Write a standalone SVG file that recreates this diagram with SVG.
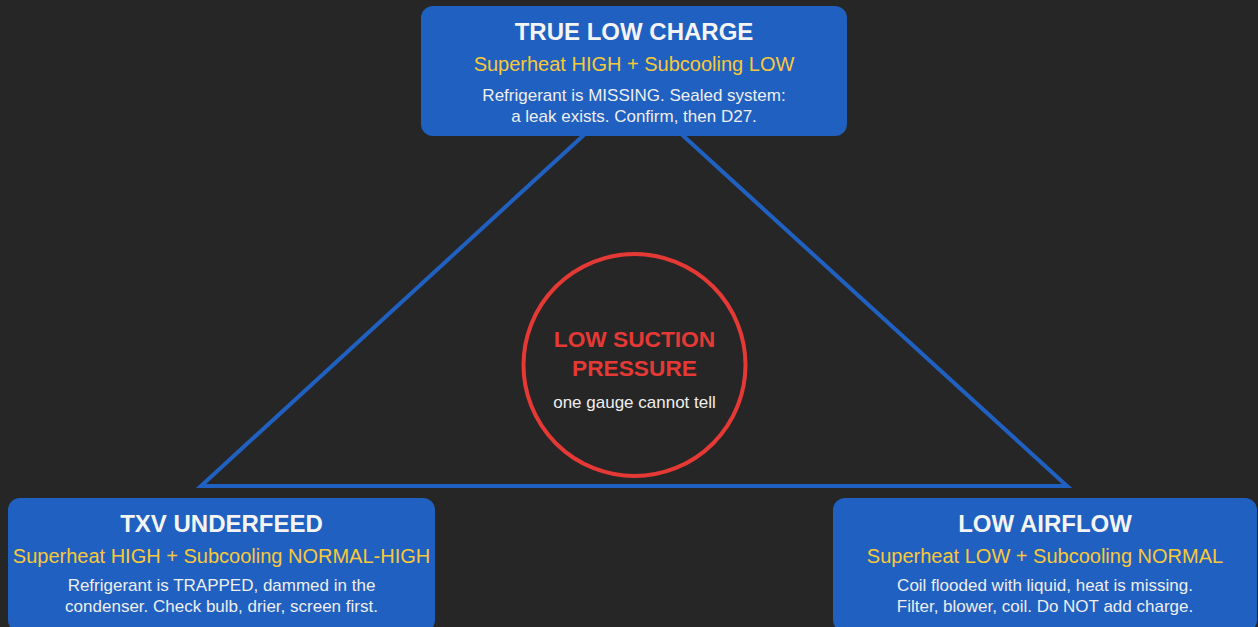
<svg xmlns="http://www.w3.org/2000/svg" width="1258" height="627" viewBox="0 0 1258 627">
<style>
.box{fill:#2060c0}
.t{font-family:"Liberation Sans",Arial,sans-serif;font-weight:bold;font-size:24px;fill:#f4f4f4;text-anchor:middle}
.s{font-family:"Liberation Sans",Arial,sans-serif;font-size:20px;fill:#f7c93a;text-anchor:middle}
.b{font-family:"Liberation Sans",Arial,sans-serif;font-size:17px;fill:#eeeeee;text-anchor:middle}
.c{font-family:"Liberation Sans",Arial,sans-serif;font-weight:bold;font-size:22.7px;fill:#e53935;text-anchor:middle}
</style>
<rect width="1258" height="627" fill="#262626"/>
<g id="connectors">
<polygon points="633,90 201,486 1067,486" fill="none" stroke="#2060c0" stroke-width="4" stroke-linejoin="miter"/>
</g>
<g id="center">
<circle cx="634.5" cy="365" r="111" fill="#262626" stroke="#e53935" stroke-width="4"/>
<text class="c" x="634.5" y="347">LOW SUCTION</text>
<text class="c" x="634.5" y="376">PRESSURE</text>
<text class="b" x="634.5" y="408">one gauge cannot tell</text>
</g>
<g id="true-low-charge">
<rect class="box" x="421" y="6" width="426" height="130" rx="12"/>
<text class="t" x="634" y="40">TRUE LOW CHARGE</text>
<text class="s" x="634" y="71">Superheat HIGH + Subcooling LOW</text>
<text class="b" x="634" y="101">Refrigerant is MISSING. Sealed system:</text>
<text class="b" x="634" y="122">a leak exists. Confirm, then D27.</text>
</g>
<g id="txv-underfeed">
<rect class="box" x="8" y="498" width="427" height="134" rx="12"/>
<text class="t" x="221.5" y="532">TXV UNDERFEED</text>
<text class="s" x="221.5" y="563">Superheat HIGH + Subcooling NORMAL-HIGH</text>
<text class="b" x="221.5" y="591">Refrigerant is TRAPPED, dammed in the</text>
<text class="b" x="221.5" y="612">condenser. Check bulb, drier, screen first.</text>
</g>
<g id="low-airflow">
<rect class="box" x="833" y="498" width="424" height="134" rx="12"/>
<text class="t" x="1045" y="532">LOW AIRFLOW</text>
<text class="s" x="1045" y="563">Superheat LOW + Subcooling NORMAL</text>
<text class="b" x="1045" y="591">Coil flooded with liquid, heat is missing.</text>
<text class="b" x="1045" y="612">Filter, blower, coil. Do NOT add charge.</text>
</g>
</svg>
